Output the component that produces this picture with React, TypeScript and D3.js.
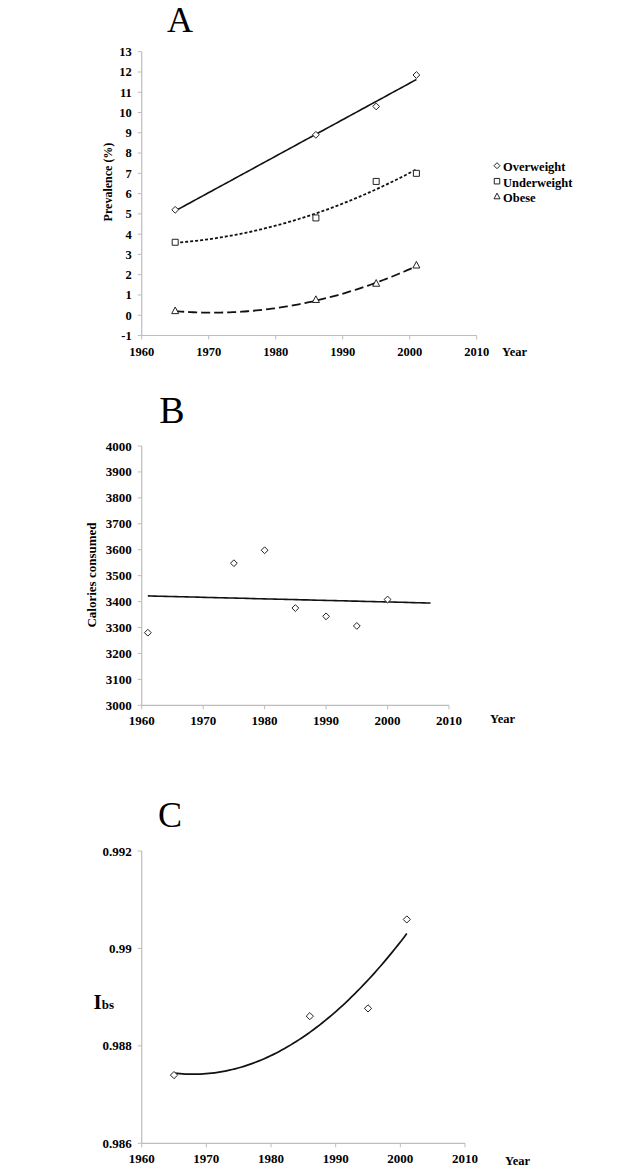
import React from "react";
import * as d3 from "d3";

// ---------- Data ----------
const prevYears = [1965, 1986, 1995, 2001];
const overweight = [5.2, 8.9, 10.3, 11.85];
const underweight = [3.6, 4.8, 6.6, 7.0];
const obese = [0.2, 0.75, 1.55, 2.45];
const prevTicks = d3.range(-1, 14, 1);
const yearTicks = [1960, 1970, 1980, 1990, 2000, 2010];
const legendLabels = ["Overweight", "Underweight", "Obese"];

const calYears = [1961, 1975, 1980, 1985, 1990, 1995, 2000];
const calories = [3280, 3548, 3598, 3375, 3343, 3306, 3408];
const calTicks = [3000, 3100, 3200, 3300, 3400, 3500, 3600, 3700, 3800, 3900, 4000];

const ibsYears = [1965, 1986, 1995, 2001];
const ibsValues = [0.9874, 0.98861, 0.98877, 0.990595];
const ibsTicks = [0.986, 0.988, 0.99, 0.992];
const ibsTickLabels = ["0.986", "0.988", "0.99", "0.992"];

// ---------- least squares polynomial fit ----------
function polyFit(xs: number[], ys: number[], deg: number, x0: number) {
  const n = deg + 1;
  const A: number[][] = Array.from({ length: n }, () => new Array(n + 1).fill(0));
  xs.forEach((xv, k) => {
    const x = xv - x0;
    for (let i = 0; i < n; i++) {
      for (let j = 0; j < n; j++) A[i][j] += Math.pow(x, i + j);
      A[i][n] += Math.pow(x, i) * ys[k];
    }
  });
  for (let c = 0; c < n; c++) {
    let p = c;
    for (let r = c + 1; r < n; r++) if (Math.abs(A[r][c]) > Math.abs(A[p][c])) p = r;
    [A[c], A[p]] = [A[p], A[c]];
    for (let r = 0; r < n; r++) {
      if (r === c) continue;
      const f = A[r][c] / A[c][c];
      for (let k = c; k <= n; k++) A[r][k] -= f * A[c][k];
    }
  }
  const coef = A.map((row, i) => row[n] / row[i]);
  return (xv: number) => coef.reduce((s, cf, i) => s + cf * Math.pow(xv - x0, i), 0);
}

function fitPoints(f: (x: number) => number, a: number, b: number) {
  const steps = 80;
  return d3.range(steps + 1).map((i) => {
    const x = a + ((b - a) * i) / steps;
    return [x, f(x)] as [number, number];
  });
}

const FONT = "'Liberation Serif', 'Times New Roman', serif";
const AXIS = "#bdbdbd";

const diamond = (r: number) => `M0,${-r}L${r},0L0,${r}L${-r},0Z`;
const square = (s: number) => `M${-s / 2},${-s / 2}h${s}v${s}h${-s}Z`;
const triangle = (s: number) => `M0,${-s * 0.6}L${s / 2},${s * 0.35}L${-s / 2},${s * 0.35}Z`;

function XAxis({ x, y0, fs }: { x: d3.ScaleLinear<number, number>; y0: number; fs: number }) {
  const [a, b] = x.range();
  return (
    <g>
      <line x1={a} x2={b} y1={y0} y2={y0} stroke={AXIS} strokeWidth={1.2} />
      {yearTicks.map((t) => (
        <g key={t}>
          <line x1={x(t)} x2={x(t)} y1={y0} y2={y0 + 4} stroke={AXIS} strokeWidth={1} />
          <text x={x(t)} y={y0 + 20} textAnchor="middle" fontSize={fs} fontWeight="bold" fontFamily={FONT}>
            {t}
          </text>
        </g>
      ))}
    </g>
  );
}

function YAxis({ y, x0, ticks, labels, fs }: { y: d3.ScaleLinear<number, number>; x0: number; ticks: number[]; labels?: string[]; fs: number }) {
  const [a, b] = y.range();
  return (
    <g>
      <line x1={x0} x2={x0} y1={a} y2={b} stroke={AXIS} strokeWidth={1.2} />
      {ticks.map((t, i) => (
        <g key={t}>
          <line x1={x0 - 4} x2={x0} y1={y(t)} y2={y(t)} stroke={AXIS} strokeWidth={1} />
          <text x={x0 - 10} y={y(t)} dy="0.35em" textAnchor="end" fontSize={fs} fontWeight="bold" fontFamily={FONT}>
            {labels ? labels[i] : t}
          </text>
        </g>
      ))}
    </g>
  );
}

export default function App() {
  // Panel A
  const xA = d3.scaleLinear().domain([1960, 2010]).range([141.7, 476.7]);
  const yA = d3.scaleLinear().domain([-1, 13]).range([335.5, 51.7]);
  const lineA = d3.line<[number, number]>().x((d) => xA(d[0])).y((d) => yA(d[1]));
  const fOver = polyFit(prevYears, overweight, 1, 1980);
  const fUnder = polyFit(prevYears, underweight, 2, 1980);
  const fObese = polyFit(prevYears, obese, 2, 1980);

  // Panel B
  const xB = d3.scaleLinear().domain([1960, 2010]).range([141.7, 449]);
  const yB = d3.scaleLinear().domain([3000, 4000]).range([705.3, 446]);
  const lineB = d3.line<[number, number]>().x((d) => xB(d[0])).y((d) => yB(d[1]));
  const fCal = polyFit(calYears, calories, 1, 1980);

  // Panel C
  const xC = d3.scaleLinear().domain([1960, 2010]).range([141.7, 465]);
  const yC = d3.scaleLinear().domain([0.986, 0.992]).range([1143.3, 851]);
  const lineC = d3.line<[number, number]>().x((d) => xC(d[0])).y((d) => yC(d[1]));
  const fIbs = polyFit(ibsYears, ibsValues, 2, 1980);

  const markerA = [diamond(3.4), square(6), triangle(7)];

  return (
    <svg width={625} height={1169} style={{ position: "absolute", left: 0, top: 0, background: "#fff" }} fontFamily={FONT}>
      <rect width={625} height={1169} fill="#fff" />

      {/* ---------- Panel A ---------- */}
      <text x={180} y={32} textAnchor="middle" fontSize={36} fontFamily={FONT}>A</text>
      <YAxis y={yA} x0={141.7} ticks={prevTicks} fs={12.5} />
      <XAxis x={xA} y0={335.5} fs={12.5} />
      <text x={502} y={356} fontSize={12.5} fontWeight="bold">Year</text>
      <text transform={`translate(112,182) rotate(-90)`} textAnchor="middle" fontSize={12} fontWeight="bold">
        Prevalence (%)
      </text>
      <path d={lineA(fitPoints(fOver, 1965, 2001)) || ""} fill="none" stroke="#111" strokeWidth={1.6} />
      <path d={lineA(fitPoints(fUnder, 1965, 2001)) || ""} fill="none" stroke="#111" strokeWidth={1.8} strokeDasharray="3,2" />
      <path d={lineA(fitPoints(fObese, 1965, 2001)) || ""} fill="none" stroke="#111" strokeWidth={1.8} strokeDasharray="9,4" />
      {[overweight, underweight, obese].map((series, si) =>
        series.map((v, i) => (
          <path key={`${si}-${i}`} d={markerA[si]} transform={`translate(${xA(prevYears[i])},${yA(v)})`} fill="#fff" stroke="#222" strokeWidth={1} />
        ))
      )}
      {legendLabels.map((lab, i) => (
        <g key={lab} transform={`translate(0,${166.7 + i * 15.5})`}>
          <path d={[diamond(3), square(5.5), triangle(6)][i]} transform="translate(497,-1)" fill="#fff" stroke="#222" strokeWidth={1} />
          <text x={503} y={0} dy="0.35em" fontSize={12.5} fontWeight="bold">{lab}</text>
        </g>
      ))}

      {/* ---------- Panel B ---------- */}
      <text x={172} y={423} textAnchor="middle" fontSize={38} fontFamily={FONT}>B</text>
      <YAxis y={yB} x0={141.7} ticks={calTicks} fs={13} />
      <XAxis x={xB} y0={705.3} fs={13} />
      <text x={490} y={723} fontSize={12.5} fontWeight="bold">Year</text>
      <text transform={`translate(96,575) rotate(-90)`} textAnchor="middle" fontSize={13} fontWeight="bold">
        Calories consumed
      </text>
      <path d={lineB(fitPoints(fCal, 1961, 2007)) || ""} fill="none" stroke="#111" strokeWidth={1.6} />
      {calories.map((v, i) => (
        <path key={i} d={diamond(3.4)} transform={`translate(${xB(calYears[i])},${yB(v)})`} fill="#fff" stroke="#222" strokeWidth={1} />
      ))}

      {/* ---------- Panel C ---------- */}
      <text x={170} y={827} textAnchor="middle" fontSize={36} fontFamily={FONT}>C</text>
      <YAxis y={yC} x0={141.7} ticks={ibsTicks} labels={ibsTickLabels} fs={13} />
      <XAxis x={xC} y0={1143.3} fs={13} />
      <text x={505} y={1165} fontSize={12.5} fontWeight="bold">Year</text>
      <text x={93.5} y={1009.3} fontWeight="bold">
        <tspan fontSize={21}>I</tspan>
        <tspan fontSize={13}>bs</tspan>
      </text>
      <path d={lineC(fitPoints(fIbs, 1965, 2001)) || ""} fill="none" stroke="#111" strokeWidth={1.7} />
      {ibsValues.map((v, i) => (
        <path key={i} d={diamond(3.6)} transform={`translate(${xC(ibsYears[i])},${yC(v)})`} fill="#fff" stroke="#222" strokeWidth={1} />
      ))}
    </svg>
  );
}
